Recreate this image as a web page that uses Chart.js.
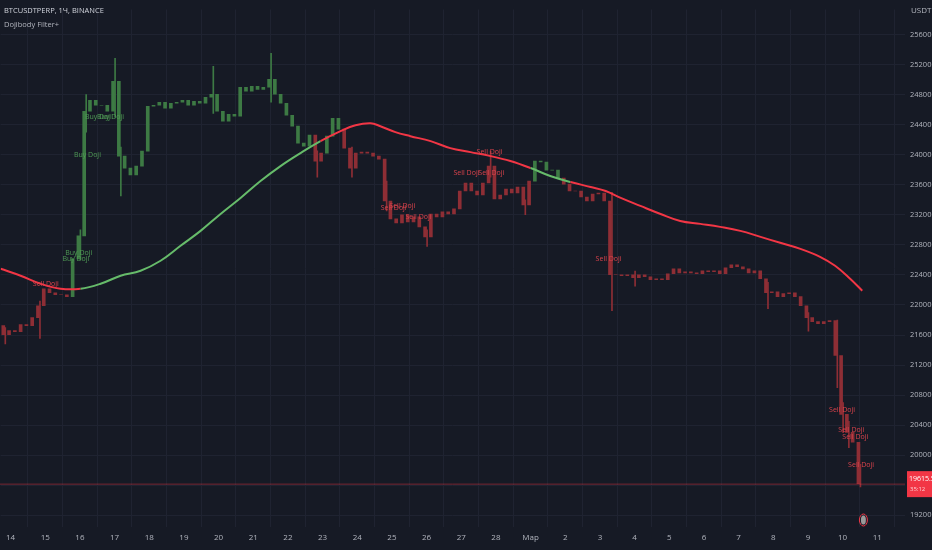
<!DOCTYPE html>
<html><head><meta charset="utf-8">
<script src="https://cdn.jsdelivr.net/npm/chart.js@4"></script>
<style>html,body{margin:0;padding:0;background:#161a25;}#w{width:932px;height:550px;position:relative}</style>
</head><body><div id="w"><canvas id="c"></canvas></div>
<script>
// 4h candles, index 0 = Feb 13 16:00; index 2+6d = day tick d
const closes=[21725,21606,21659,21645,21738,21725,21831,21990,22216,22163,22136,22136,22110,22614,22919,24578,24724,24658,24658,24578,
24976,23981,23822,23729,23848,24047,24645,24658,24698,24618,24684,24698,24724,24658,24711,24684,24764,24804,24578,24446,
24538,24512,24897,24844,24910,24870,24897,25003,24804,24684,24525,24379,24154,24114,24260,23915,24021,24246,24485,24339,
24087,23822,24021,24034,24021,23981,23941,23384,23145,23092,23198,23105,23172,23039,22906,23211,23172,23238,23211,23278,
23517,23623,23517,23463,23623,23848,23410,23463,23543,23490,23570,23331,23649,23915,23902,23795,23795,23689,23609,23517,
23517,23437,23384,23477,23490,23384,22402,22402,22389,22402,22362,22402,22375,22336,22349,22336,22415,22481,22428,22442,
22428,22415,22455,22442,22455,22415,22495,22535,22508,22481,22428,22455,22349,22163,22176,22110,22150,22163,22110,21990,
21831,21778,21752,21778,21791,21327,20544,20305,20173,19620];
const wickIdx=[1,7,14,15,20,21,37,47,55,61,67,74,85,91,106,110,133,140,145,146,147,149];
const wickLow=[21480,21553,22600,24300,24500,23450,24550,24700,23700,23700,23250,22780,23700,23200,21924,22250,21950,21650,20900,20300,20100,19580];
const wickHigh=[21700,22050,23000,24800,25281,24100,25175,25348,24050,24100,23650,23000,24047,23400,23500,22450,22300,21900,21800,20700,20450,19880];
const maIdx=[0.28,3.74,7.2,10.66,14.12,17.58,21.04,24.5,27.96,31.42,34.88,38.34,41.8,45.26,48.72,52.18,55.64,59.1,61.7,64.3,66.0,68.6,71.2,74.7,78.1,81.6,85.1,88.5,92.0,95.4,98.9,102.4,105.0,107.6,111.0,114.5,117.9,121.4,124.8,128.3,131.8,135.2,138.7,142.1,144.7,147.3,149.4];
const maVals=[22481,22389,22282,22216,22216,22282,22389,22455,22588,22787,22986,23211,23424,23649,23848,24021,24180,24313,24392,24419,24379,24300,24246,24180,24087,24034,23981,23915,23822,23716,23636,23570,23517,23424,23318,23211,23118,23079,23039,22986,22906,22827,22747,22641,22521,22349,22190];
const dayLabels=['14','15','16','17','18','19','20','21','22','23','24','25','26','27','28','Мар','2','3','4','5','6','7','8','9','10','11'];
const buyIdx=[13.3,13.8,15.3,17.2,19.3], buyPrice=[22614,22694,23994,24499,24499];
const sellIdx=[8.1,68.3,69.8,72.6,80.9,84.9,85.2,105.5,145.9,147.5,148.2,149.2];
const sellPrice=[22282,23291,23318,23172,23755,24034,23755,22614,20597,20332,20239,19867];
const priceTicks=[19200,19600,20000,20400,20800,21200,21600,22000,22400,22800,23200,23600,24000,24400,24800,25200,25600];
const lastPrice=19615.5;

function maAt(x){for(let k=1;k<maIdx.length;k++){if(x<=maIdx[k]){const t=(x-maIdx[k-1])/(maIdx[k]-maIdx[k-1]);return maVals[k-1]+t*(maVals[k]-maVals[k-1]);}}return maVals[maVals.length-1];}
const priceAt=x=>{const i=Math.max(0,Math.min(closes.length-1,Math.round(x)));return closes[i];};
const GREEN='#3d7a44',RED='#8e2e35';
const candleData=closes.map((c,i)=>({x:i,y:[i?closes[i-1]:c,c]}));
const candleCol=closes.map((c,i)=>c>maAt(i)?GREEN:RED);
const wickData=wickIdx.map((i,k)=>({x:i,y:[wickLow[k],wickHigh[k]]}));
const wickCol=wickIdx.map(i=>closes[i]>maAt(i)?GREEN:RED);

const overlay={id:'ov',afterDatasetsDraw(ch){
 const g=ch.ctx,xs=ch.scales.x,ys=ch.scales.y;
 g.save();g.textAlign='center';g.textBaseline='middle';g.font='7px "Open Sans"';
 g.fillStyle='#4f9a55';buyIdx.forEach((v,k)=>g.fillText('Buy Doji',xs.getPixelForValue(v),ys.getPixelForValue(buyPrice[k])));
 g.fillStyle='#d9434c';sellIdx.forEach((v,k)=>g.fillText('Sell Doji',xs.getPixelForValue(v),ys.getPixelForValue(sellPrice[k])));
 const py=ys.getPixelForValue(lastPrice);
 g.strokeStyle='rgba(242,54,69,0.45)';g.lineWidth=1;g.beginPath();g.moveTo(0,py);g.lineTo(ch.chartArea.right,py);g.stroke();
 g.fillStyle='#f23645';g.fillRect(907,py-13,25,26);
 g.fillStyle='#fff';g.font='7px "Open Sans"';g.textAlign='left';g.fillText(lastPrice.toFixed(1),909,py-5);
 g.font='6px "Open Sans"';g.fillStyle='rgba(255,255,255,0.75)';g.fillText('35:12',910,py+5);
 g.font='8px "Open Sans"';g.fillStyle='#b2b5be';g.fillText('USDT',911,11);
 g.textAlign='left';g.fillStyle='#d1d4dc';g.font='7.5px "Open Sans"';g.fillText('BTCUSDTPERP, 1Ч, BINANCE',4,11);
 g.fillStyle='#b2b5be';g.fillText('Dojibody Filter+',4,25);
 const cx=xs.getPixelForValue(149.6),cy=520;
 g.strokeStyle='#f23645';g.lineWidth=1;g.beginPath();g.ellipse(cx,cy,4,6,0,0,Math.PI*2);g.stroke();
 g.fillStyle='#9a9a9a';g.beginPath();g.ellipse(cx,cy,2.5,4.5,0,0,Math.PI*2);g.fill();
 g.restore();}};
const bg={id:'bg',beforeDraw(ch){ch.ctx.save();ch.ctx.fillStyle='#161a25';ch.ctx.fillRect(0,0,ch.width,ch.height);ch.ctx.restore();}};

new Chart(document.getElementById('c'),{
 data:{datasets:[
  {type:'bar',data:wickData,backgroundColor:wickCol,barThickness:1,order:3},
  {type:'bar',data:candleData,backgroundColor:candleCol,barThickness:3,order:2},
  {type:'line',data:maIdx.map((x,k)=>({x,y:maVals[k]})),borderWidth:2,pointRadius:0,tension:0.4,order:1,
   segment:{borderColor:c=>priceAt((c.p0.parsed.x+c.p1.parsed.x)/2)>maAt((c.p0.parsed.x+c.p1.parsed.x)/2)?'#66bb6a':'#f23645'}}
 ]},
 options:{responsive:true,maintainAspectRatio:false,animation:false,
  layout:{padding:0},
  plugins:{legend:{display:false},tooltip:{enabled:false}},
  scales:{
   x:{type:'linear',min:0.28,max:156.8,offset:false,
    afterBuildTicks:a=>{a.ticks=dayLabels.map((l,d)=>({value:2+6*d}));},
    afterFit:a=>{a.height=23;},
    ticks:{color:'#b2b5be',font:{size:8,family:'Open Sans'},maxRotation:0,autoSkip:false,padding:6,callback:(v,i)=>dayLabels[i]},
    grid:{color:'#1f2331',drawTicks:false},border:{display:false}},
   y:{position:'right',min:19045,max:25932,
    afterBuildTicks:a=>{a.ticks=priceTicks.map(v=>({value:v}));},
    afterFit:a=>{a.width=27;},
    ticks:{color:'#b2b5be',font:{size:7.5,family:'Open Sans'},padding:5,callback:v=>v.toFixed(1)},
    grid:{color:'#1f2331',drawTicks:false},border:{display:false}}
  }},
 plugins:[bg,overlay]
});
</script></body></html>
